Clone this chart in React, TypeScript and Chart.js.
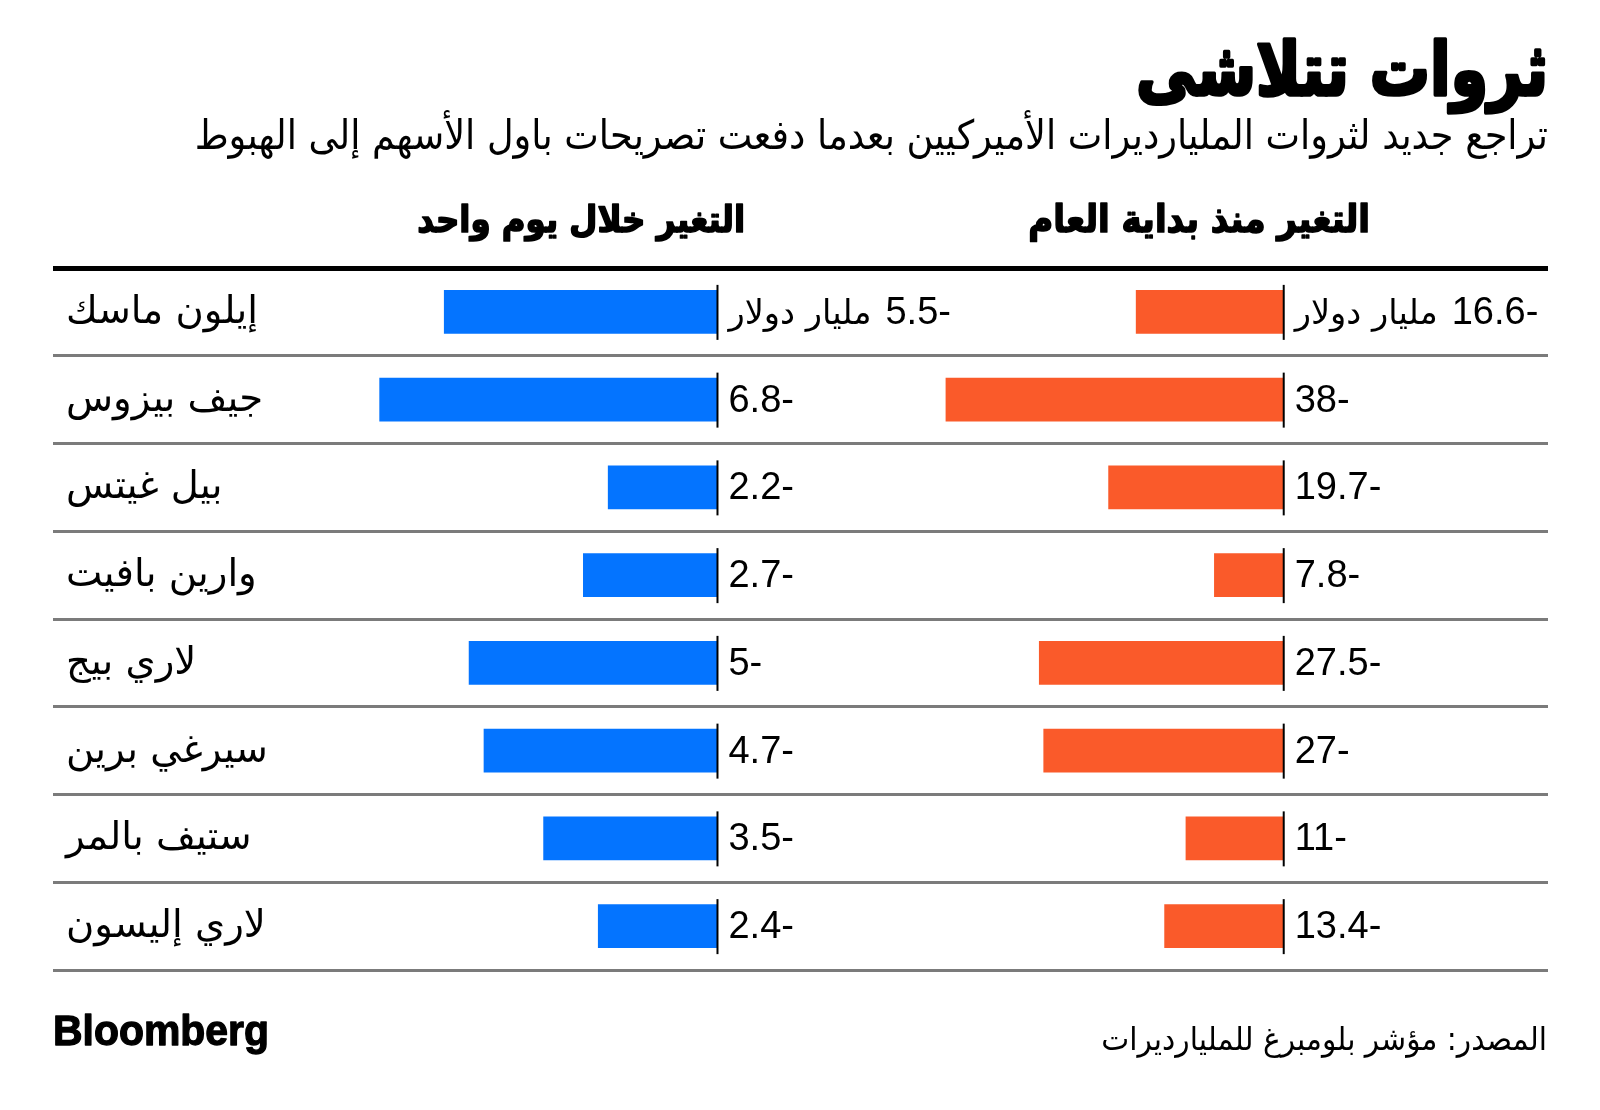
import { useEffect, useRef } from 'react';
import { Chart, registerables } from 'chart.js';

Chart.register(...registerables);

// ---------- data ----------
const names = [
  'إيلون ماسك',
  'جيف بيزوس',
  'بيل غيتس',
  'وارين بافيت',
  'لاري بيج',
  'سيرغي برين',
  'ستيف بالمر',
  'لاري إليسون',
];
const dayChange = [-5.5, -6.8, -2.2, -2.7, -5, -4.7, -3.5, -2.4];
const ytdChange = [-16.6, -38, -19.7, -7.8, -27.5, -27, -11, -13.4];
const unitLabel = 'مليار دولار';
const titleText = 'ثروات تتلاشى';
const subtitleText = 'تراجع جديد لثروات المليارديرات الأميركيين بعدما دفعت تصريحات باول الأسهم إلى الهبوط';
const dayHeader = 'التغير خلال يوم واحد';
const ytdHeader = 'التغير منذ بداية العام';
const sourceText = 'المصدر: مؤشر بلومبرغ للمليارديرات';
const brandText = 'Bloomberg';

// ---------- styles ----------
const BLUE = '#0474ff';
const ORANGE = '#fa5a2a';
const AR = '"DejaVu Sans", sans-serif';
const LAT = '"Liberation Sans", "DejaVu Sans", sans-serif';

function fitSize(ctx: CanvasRenderingContext2D, text: string, weight: string, family: string, target: number, rtl: boolean) {
  ctx.save();
  ctx.direction = rtl ? 'rtl' : 'ltr';
  ctx.font = `${weight} 100px ${family}`;
  const w = ctx.measureText(text).width;
  ctx.restore();
  return (100 * target) / w;
}

function textWidth(ctx: CanvasRenderingContext2D, text: string, size: number, weight: string, family: string, rtl: boolean) {
  ctx.save();
  ctx.direction = rtl ? 'rtl' : 'ltr';
  ctx.font = `${weight} ${size}px ${family}`;
  const w = ctx.measureText(text).width;
  ctx.restore();
  return w;
}

function drawText(
  ctx: CanvasRenderingContext2D,
  text: string,
  x: number,
  y: number,
  size: number,
  weight: string,
  family: string,
  align: CanvasTextAlign,
  rtl: boolean,
  stroke = 0,
  scaleY = 1
) {
  ctx.save();
  ctx.translate(x, y);
  ctx.scale(1, scaleY);
  ctx.direction = rtl ? 'rtl' : 'ltr';
  ctx.font = `${weight} ${size}px ${family}`;
  ctx.textAlign = align;
  ctx.textBaseline = 'alphabetic';
  ctx.fillStyle = '#000';
  ctx.fillText(text, 0, 0);
  if (stroke > 0) {
    ctx.strokeStyle = '#000';
    ctx.lineWidth = stroke;
    ctx.lineJoin = 'round';
    ctx.strokeText(text, 0, 0);
  }
  ctx.restore();
}

const decorPlugin = {
  id: 'decor',
  afterDatasetsDraw(chart: any) {
    const ctx: CanvasRenderingContext2D = chart.ctx;
    const yScale = chart.scales.y;

    // zero lines + value labels
    chart.data.datasets.forEach((ds: any, di: number) => {
      const meta = chart.getDatasetMeta(di);
      const xs = chart.scales[ds.xAxisID];
      const x0 = xs.getPixelForValue(0);
      meta.data.forEach((bar: any, i: number) => {
        ctx.save();
        ctx.strokeStyle = '#000';
        ctx.lineWidth = 2;
        ctx.beginPath();
        ctx.moveTo(x0, bar.y - 27);
        ctx.lineTo(x0, bar.y + 28);
        ctx.stroke();
        ctx.restore();
        const v = ds.data[i];
        const ty = bar.y + 12;
        if (i === 0) {
          const uSize = fitSize(ctx, unitLabel, '400', AR, 143, true);
          drawText(ctx, unitLabel, x0 + 11, ty, uSize, '400', AR, 'left', true);
          const uw = textWidth(ctx, unitLabel, uSize, '400', AR, true);
          drawText(ctx, `${v}`, x0 + 11 + uw + 14, ty, 38, '400', LAT, 'left', true);
        } else {
          drawText(ctx, `${v}`, x0 + 11, ty, 38, '400', LAT, 'left', true);
        }
      });
    });

    // names
    const nameSize = fitSize(ctx, names[0], '400', AR, 192, true);
    names.forEach((n, i) => {
      const y = yScale.getPixelForValue(i);
      drawText(ctx, n, 66, y + 11, nameSize, '400', AR, 'left', true);
    });

    // title & subtitle
    const tSize = fitSize(ctx, titleText, '700', AR, 412, true);
    drawText(ctx, titleText, 1548, 95, tSize, '700', AR, 'right', true, 3, 1.22);
    const sSize = fitSize(ctx, subtitleText, '400', AR, 1354, true);
    drawText(ctx, subtitleText, 1548, 149, sSize, '400', AR, 'right', true, 0, 1.1);

    // headers
    const h1 = fitSize(ctx, dayHeader, '700', AR, 328, true);
    drawText(ctx, dayHeader, 745, 232, h1, '700', AR, 'right', true, 1.5, 1.12);
    const h2 = fitSize(ctx, ytdHeader, '700', AR, 342, true);
    drawText(ctx, ytdHeader, 1370, 232, h2, '700', AR, 'right', true, 1.5, 1.12);

    // footer
    const bSize = fitSize(ctx, brandText, '700', LAT, 216, false);
    drawText(ctx, brandText, 53, 1045, bSize, '700', LAT, 'left', false, 1.2, 1.05);
    const srcSize = fitSize(ctx, sourceText, '400', AR, 446, true);
    drawText(ctx, sourceText, 1547, 1050, srcSize, '400', AR, 'right', true, 0, 1.08);
  },
};

export default function App() {
  const ref = useRef<HTMLCanvasElement | null>(null);

  useEffect(() => {
    document.body.style.margin = '0';
    if (!ref.current) return;
    const chart = new Chart(ref.current, {
      type: 'bar',
      data: {
        labels: names,
        datasets: [
          {
            label: dayHeader,
            data: dayChange,
            xAxisID: 'xd',
            backgroundColor: BLUE,
            barThickness: 43,
            grouped: false,
          } as any,
          {
            label: ytdHeader,
            data: ytdChange,
            xAxisID: 'xy',
            backgroundColor: ORANGE,
            barThickness: 43,
            grouped: false,
          } as any,
        ],
      },
      options: {
        indexAxis: 'y',
        responsive: false,
        maintainAspectRatio: false,
        devicePixelRatio: 1,
        animation: false,
        layout: { padding: { left: 53, right: 52, top: 268, bottom: 140 } },
        plugins: { legend: { display: false }, tooltip: { enabled: false } },
        scales: {
          y: {
            type: 'category',
            display: true,
            offset: true,
            ticks: { display: false },
            border: { display: false },
            grid: {
              offset: true,
              drawTicks: false,
              color: (c: any) => (c.index === 0 ? '#000' : '#7b7b7b'),
              lineWidth: (c: any) => (c.index === 0 ? 5 : 3),
            },
          },
          xd: {
            type: 'linear',
            display: false,
            min: -13.375,
            max: 16.717,
          },
          xy: {
            type: 'linear',
            display: false,
            min: -138.45,
            max: 29.73,
          },
        },
      } as any,
      plugins: [decorPlugin],
    });
    return () => chart.destroy();
  }, []);

  return (
    <div style={{ position: 'absolute', left: 0, top: 0, width: 1600, height: 1110, background: '#fff' }}>
      <canvas ref={ref} width={1600} height={1110} style={{ display: 'block', width: 1600, height: 1110 }} />
    </div>
  );
}
